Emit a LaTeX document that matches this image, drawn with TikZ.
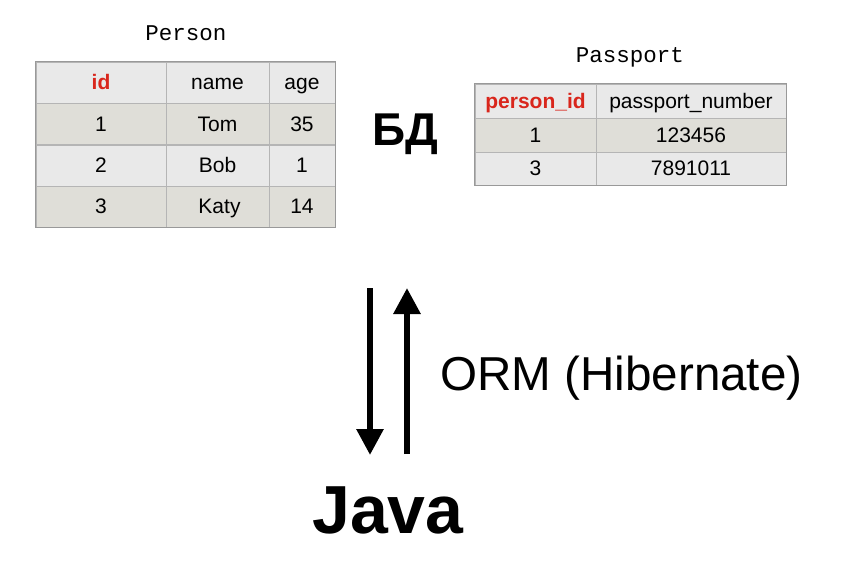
\documentclass[tikz,border=0pt]{standalone}
\usepackage{fontspec}
\setmainfont{Liberation Sans}
\setmonofont{Liberation Mono}
\usetikzlibrary{positioning}
\usetikzlibrary{arrows.meta}
\definecolor{celllight}{HTML}{E9E9E9}
\definecolor{celldark}{HTML}{DFDED8}
\definecolor{cellline}{HTML}{B5B5B5}
\definecolor{keyred}{HTML}{D9261C}

\tikzset{
  cell/.style={draw=cellline, line width=0.8pt, inner sep=0pt, text height=15pt, text depth=0pt,
    font=\fontsize{21}{25}\selectfont},
  light/.style={cell, fill=celllight},
  dark/.style={cell, fill=celldark},
  keycol/.style={text=keyred, font=\bfseries\fontsize{21}{25}\selectfont},
  tabletitle/.style={font=\ttfamily\fontsize{22.5}{25}\selectfont, anchor=base},
  bigarrow/.style={line width=6pt, -{Triangle[width=26pt,length=26pt]}}
}

\begin{document}
\begin{tikzpicture}[x=1pt,y=-1pt]
\useasboundingbox (0,0) rectangle (844,567);

\node[tabletitle] (ptitle) at (186,41) {Person};
\node[light,keycol,minimum width=130pt,minimum height=41pt] (p11) at (101,82.5) {id};
\node[light,minimum width=103pt,minimum height=41pt] (p12) at (217.5,82.5) {name};
\node[light,minimum width=66pt,minimum height=41pt] (p13) at (302,82.5) {age};
\node[dark,minimum width=130pt,minimum height=41.5pt] (p21) at (101,124) {1};
\node[dark,minimum width=103pt,minimum height=41.5pt] (p22) at (217.5,124) {Tom};
\node[dark,minimum width=66pt,minimum height=41.5pt] (p23) at (302,124) {35};
\node[light,minimum width=130pt,minimum height=41pt] (p31) at (101,165.5) {2};
\node[light,minimum width=103pt,minimum height=41pt] (p32) at (217.5,165.5) {Bob};
\node[light,minimum width=66pt,minimum height=41pt] (p33) at (302,165.5) {1};
\node[dark,minimum width=130pt,minimum height=41pt] (p41) at (101,206.5) {3};
\node[dark,minimum width=103pt,minimum height=41pt] (p42) at (217.5,206.5) {\hspace{4pt}Katy};
\node[dark,minimum width=66pt,minimum height=41pt] (p43) at (302,206.5) {14};
\draw[draw=gray!80, line width=0.8pt] (p11.north west) rectangle (p43.south east);

\node[tabletitle] (stitle) at (630,63) {Passport};
\node[light,keycol,minimum width=121pt,minimum height=34pt] (s11) at (535.5,101) {person\_id};
\node[light,minimum width=190pt,minimum height=34pt] (s12) at (691,101) {passport\_number};
\node[dark,minimum width=121pt,minimum height=34pt] (s21) at (535.5,135) {1};
\node[dark,minimum width=190pt,minimum height=34pt] (s22) at (691,135) {123456};
\node[light,minimum width=121pt,minimum height=33pt] (s31) at (535.5,168.5) {3};
\node[light,minimum width=190pt,minimum height=33pt] (s32) at (691,168.5) {7891011};
\draw[draw=gray!80, line width=0.8pt] (s11.north west) rectangle (s32.south east);

\node[font=\bfseries\fontsize{46}{50}\selectfont, anchor=base] (db) at (405,146) {БД};

\coordinate (downtop) at (370,288);
\coordinate (downend) at (370,455);
\coordinate (uptop) at (407,288);
\coordinate (upend) at (407,454);
\draw[bigarrow] (downtop) -- (downend);
\draw[bigarrow] (upend) -- (uptop);

\node[font=\fontsize{47.6}{52}\selectfont, anchor=base west, inner sep=0pt] (orm) at (440,390) {ORM (Hibernate)};
\node[font=\bfseries\fontsize{68}{72}\selectfont, anchor=base] (java) at (388,533) {Java};
\end{tikzpicture}
\end{document}
